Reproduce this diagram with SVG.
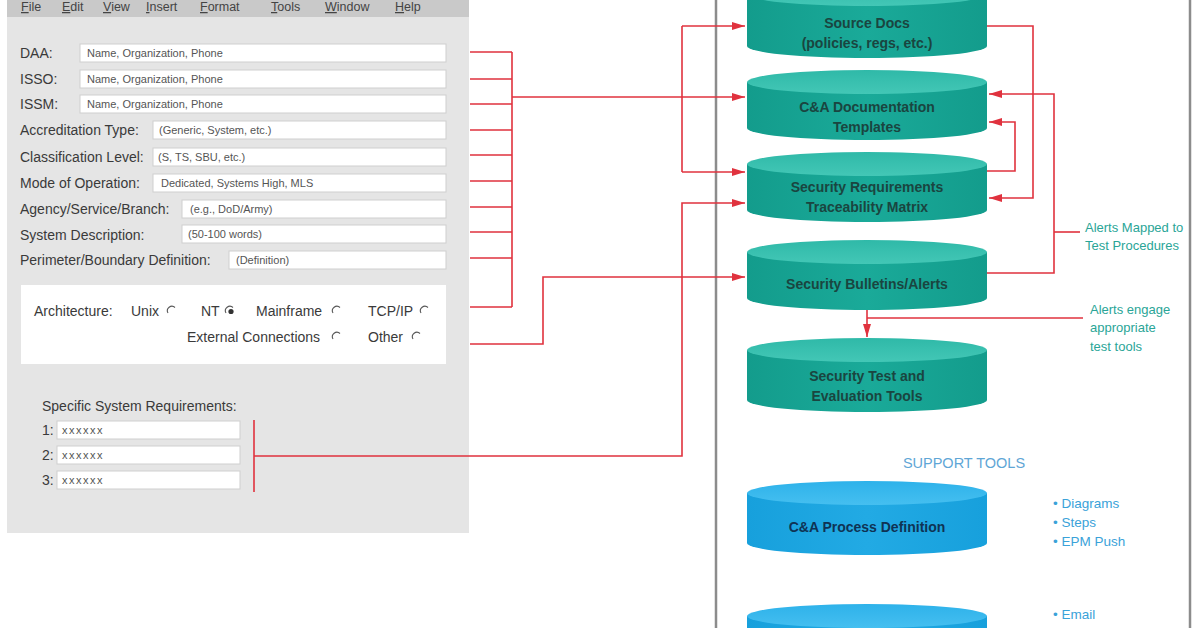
<svg xmlns="http://www.w3.org/2000/svg" width="1196" height="628" viewBox="0 0 1196 628">
<defs>
<marker id="arr" viewBox="0 0 13 8" refX="13" refY="4" markerWidth="13" markerHeight="8" markerUnits="userSpaceOnUse" orient="auto">
<path d="M0,0 L13,4 L0,8 z" fill="#e0323e"/>
</marker>
<linearGradient id="tealTop" x1="0" y1="0" x2="0" y2="1">
<stop offset="0" stop-color="#2fb9a8"/><stop offset="1" stop-color="#43c7b6"/>
</linearGradient>
<linearGradient id="tealBody" x1="0" y1="0" x2="1" y2="0">
<stop offset="0" stop-color="#139c8c"/><stop offset="0.5" stop-color="#1aaa99"/><stop offset="1" stop-color="#139c8c"/>
</linearGradient>
<linearGradient id="blueTop" x1="0" y1="0" x2="0" y2="1">
<stop offset="0" stop-color="#2eb2ea"/><stop offset="1" stop-color="#45bff0"/>
</linearGradient>
<linearGradient id="blueBody" x1="0" y1="0" x2="1" y2="0">
<stop offset="0" stop-color="#17a0dc"/><stop offset="0.5" stop-color="#22aae4"/><stop offset="1" stop-color="#17a0dc"/>
</linearGradient>
<style>
text{font-family:"Liberation Sans",Arial,sans-serif}
.menu{font-size:12.5px;fill:#444}
.ul{text-decoration:underline}
.lbl{font-size:14px;fill:#3a3a3a}
.ph{font-size:11px;fill:#555}
.xs{font-size:11px;fill:#555;letter-spacing:1.5px}
.box{fill:#fff;stroke:#cfcfcf;stroke-width:1}
.radio{fill:none;stroke:#555;stroke-width:1.1}
.con{fill:none;stroke:#e0323e;stroke-width:1.6}
.cyl-t .body{fill:url(#tealBody)}
.cyl-t .top{fill:url(#tealTop)}
.cyl-b .body{fill:url(#blueBody)}
.cyl-b .top{fill:url(#blueTop)}
.ct{font-size:14px;fill:#1a4540;text-anchor:middle;font-weight:bold}
.cb{font-size:14px;fill:#0f3354;text-anchor:middle;font-weight:bold}
.note{font-size:13px;fill:#2aa597}
.sup{font-size:14.5px;fill:#5fa6d6;text-anchor:middle}
.bul{font-size:13.5px;fill:#3aa2d9}
</style>
</defs>
<rect width="1196" height="628" fill="#ffffff"/>

<!-- Form panel -->
<g id="form">
<rect x="7" y="0" width="462" height="533" fill="#e5e5e5"/>
<rect x="7" y="0" width="462" height="17" fill="#c9c9c9"/>
<g class="menu">
<text x="21" y="11"><tspan class="ul">F</tspan>ile</text>
<text x="62" y="11"><tspan class="ul">E</tspan>dit</text>
<text x="103" y="11"><tspan class="ul">V</tspan>iew</text>
<text x="146" y="11"><tspan class="ul">I</tspan>nsert</text>
<text x="200" y="11"><tspan class="ul">F</tspan>ormat</text>
<text x="271" y="11"><tspan class="ul">T</tspan>ools</text>
<text x="325" y="11"><tspan class="ul">W</tspan>indow</text>
<text x="395" y="11"><tspan class="ul">H</tspan>elp</text>
</g>
<g id="fields">
<text class="lbl" x="20" y="58">DAA:</text>
<rect class="box" x="80" y="44" width="366" height="18"/>
<text class="ph" x="87" y="57">Name, Organization, Phone</text>
<text class="lbl" x="20" y="84">ISSO:</text>
<rect class="box" x="80" y="70" width="366" height="18"/>
<text class="ph" x="87" y="83">Name, Organization, Phone</text>
<text class="lbl" x="20" y="109">ISSM:</text>
<rect class="box" x="80" y="95" width="366" height="18"/>
<text class="ph" x="87" y="108">Name, Organization, Phone</text>
<text class="lbl" x="20" y="135">Accreditation Type:</text>
<rect class="box" x="153" y="121" width="293" height="18"/>
<text class="ph" x="159" y="134">(Generic, System, etc.)</text>
<text class="lbl" x="20" y="162">Classification Level:</text>
<rect class="box" x="153" y="148" width="293" height="18"/>
<text class="ph" x="158" y="161">(S, TS, SBU, etc.)</text>
<text class="lbl" x="20" y="188">Mode of Operation:</text>
<rect class="box" x="153" y="174" width="293" height="18"/>
<text class="ph" x="161" y="187">Dedicated, Systems High, MLS</text>
<text class="lbl" x="20" y="214">Agency/Service/Branch:</text>
<rect class="box" x="182" y="200" width="264" height="18"/>
<text class="ph" x="190" y="213">(e.g., DoD/Army)</text>
<text class="lbl" x="20" y="240">System Description:</text>
<rect class="box" x="182" y="225" width="264" height="18"/>
<text class="ph" x="188" y="238">(50-100 words)</text>
<text class="lbl" x="20" y="265">Perimeter/Boundary Definition:</text>
<rect class="box" x="229" y="251" width="217" height="18"/>
<text class="ph" x="236" y="264">(Definition)</text>
</g>
<g id="architecture">
<rect x="21" y="285" width="425" height="79" fill="#fff"/>
<text class="lbl" x="34" y="316">Architecture:</text>
<text class="lbl" x="131" y="316">Unix</text>
<path class="radio" d="M168,313 A4.5,4.5 0 0 1 175,307.5"/>
<text class="lbl" x="201" y="316">NT</text>
<path class="radio" d="M226,313 A4.5,4.5 0 0 1 233,307.5"/>
<circle cx="231" cy="311.5" r="2.6" fill="#333"/>
<text class="lbl" x="256" y="316">Mainframe</text>
<path class="radio" d="M333,313 A4.5,4.5 0 0 1 340,307.5"/>
<text class="lbl" x="368" y="316">TCP/IP</text>
<path class="radio" d="M421,313 A4.5,4.5 0 0 1 428,307.5"/>
<text class="lbl" x="187" y="342">External Connections</text>
<path class="radio" d="M333,339 A4.5,4.5 0 0 1 340,333.5"/>
<text class="lbl" x="368" y="342">Other</text>
<path class="radio" d="M413,339 A4.5,4.5 0 0 1 420,333.5"/>
</g>
<g id="requirements">
<text class="lbl" x="42" y="411">Specific System Requirements:</text>
<text class="lbl" x="42" y="435">1:</text>
<rect class="box" x="57" y="421" width="183" height="18"/>
<text class="xs" x="62" y="434">xxxxxx</text>
<text class="lbl" x="42" y="460">2:</text>
<rect class="box" x="57" y="446" width="183" height="18"/>
<text class="xs" x="62" y="459">xxxxxx</text>
<text class="lbl" x="42" y="485">3:</text>
<rect class="box" x="57" y="471" width="183" height="18"/>
<text class="xs" x="62" y="484">xxxxxx</text>
</g>
</g>

<!-- Frame of right area -->
<rect x="716" y="-10" width="474" height="700" fill="none" stroke="#8c8c8c" stroke-width="2.5"/>

<!-- Connectors -->
<g id="connectors">
<path class="con" d="M470,52 H512 M470,79 H512 M470,104 H512 M470,130 H512 M470,155 H512 M470,181 H512 M470,207 H512 M470,232 H512 M470,258 H512 M470,307 H512 M512,52 V307"/>
<path class="con" d="M512,97 H745" marker-end="url(#arr)"/>
<path class="con" d="M682,26 V172"/>
<path class="con" d="M682,26 H745" marker-end="url(#arr)"/>
<path class="con" d="M682,172 H745" marker-end="url(#arr)"/>
<path class="con" d="M470,344 H543 V277 H745" marker-end="url(#arr)"/>
<path class="con" d="M254,420 V492" stroke-width="2.5"/>
<path class="con" d="M254,456 H682 V203 H745" marker-end="url(#arr)"/>
<path class="con" d="M987,26 H1033 V198 H989" marker-end="url(#arr)"/>
<path class="con" d="M987,171 H1015 V122 H989" marker-end="url(#arr)"/>
<path class="con" d="M987,273 H1054 V94 H989" marker-end="url(#arr)"/>
<path class="con" d="M1054,232 H1080"/>
<path class="con" d="M867,310 V337" marker-end="url(#arr)"/>
<path class="con" d="M867,318 H1083"/>
</g>

<!-- Cylinders -->
<g id="source-docs" class="cyl-t">
<path class="body" d="M747,-6 V46 A120,12 0 0 0 987,46 V-6 Z"/>
<ellipse class="top" cx="867" cy="-6" rx="120" ry="12"/>
<text class="ct" x="867" y="28">Source Docs</text>
<text class="ct" x="867" y="48">(policies, regs, etc.)</text>
</g>
<g id="ca-templates" class="cyl-t">
<path class="body" d="M747,82 V128 A120,12 0 0 0 987,128 V82 Z"/>
<ellipse class="top" cx="867" cy="82" rx="120" ry="12"/>
<text class="ct" x="867" y="112">C&amp;A Documentation</text>
<text class="ct" x="867" y="132">Templates</text>
</g>
<g id="srtm" class="cyl-t">
<path class="body" d="M747,164 V210 A120,12 0 0 0 987,210 V164 Z"/>
<ellipse class="top" cx="867" cy="164" rx="120" ry="12"/>
<text class="ct" x="867" y="192">Security Requirements</text>
<text class="ct" x="867" y="212">Traceability Matrix</text>
</g>
<g id="bulletins" class="cyl-t">
<path class="body" d="M747,252 V298 A120,12 0 0 0 987,298 V252 Z"/>
<ellipse class="top" cx="867" cy="252" rx="120" ry="12"/>
<text class="ct" x="867" y="289">Security Bulletins/Alerts</text>
</g>
<g id="ste-tools" class="cyl-t">
<path class="body" d="M747,350 V400 A120,12 0 0 0 987,400 V350 Z"/>
<ellipse class="top" cx="867" cy="350" rx="120" ry="12"/>
<text class="ct" x="867" y="381">Security Test and</text>
<text class="ct" x="867" y="401">Evaluation Tools</text>
</g>
<g id="process-def" class="cyl-b">
<path class="body" d="M747,493 V543 A120,12 0 0 0 987,543 V493 Z"/>
<ellipse class="top" cx="867" cy="493" rx="120" ry="12"/>
<text class="cb" x="867" y="532">C&amp;A Process Definition</text>
</g>
<g id="support-2" class="cyl-b">
<path class="body" d="M747,616 V680 A120,12 0 0 0 987,680 V616 Z"/>
<ellipse class="top" cx="867" cy="616" rx="120" ry="12"/>
</g>

<!-- Labels -->
<g id="labels">
<text class="note" x="1085" y="232">Alerts Mapped to</text>
<text class="note" x="1085" y="250">Test Procedures</text>
<text class="note" x="1090" y="314">Alerts engage</text>
<text class="note" x="1090" y="332">appropriate</text>
<text class="note" x="1090" y="351">test tools</text>
<text class="sup" x="964" y="468">SUPPORT TOOLS</text>
<text class="bul" x="1053" y="508">•  Diagrams</text>
<text class="bul" x="1053" y="527">•  Steps</text>
<text class="bul" x="1053" y="546">•  EPM Push</text>
<text class="bul" x="1053" y="619">•  Email</text>
</g>
</svg>
